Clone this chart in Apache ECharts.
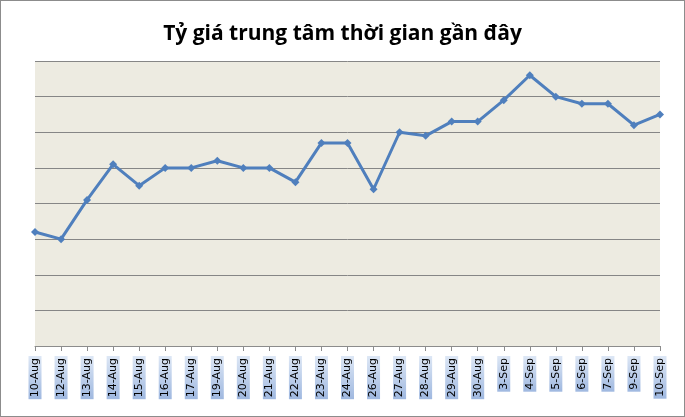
<!DOCTYPE html>
<html><head><meta charset="utf-8">
<script src="https://cdn.jsdelivr.net/npm/echarts@6/dist/echarts.min.js"></script>
<style>html,body{margin:0;padding:0;background:#fff}#c{width:685px;height:417px;box-sizing:border-box;border:1px solid #8c8c8c}</style>
</head><body><div id="c"></div>
<script>
const categories = ['10-Aug','12-Aug','13-Aug','14-Aug','15-Aug','16-Aug','17-Aug','19-Aug','20-Aug','21-Aug','22-Aug','23-Aug','24-Aug','26-Aug','27-Aug','28-Aug','29-Aug','30-Aug','3-Sep','4-Sep','5-Sep','6-Sep','7-Sep','9-Sep','10-Sep'];
const values = [3.2,3.0,4.1,5.1,4.5,5.0,5.0,5.2,5.0,5.0,4.6,5.7,5.7,4.4,6.0,5.9,6.3,6.3,6.9,7.6,7.0,6.8,6.8,6.2,6.5];
const chart = echarts.init(document.getElementById('c'));
chart.setOption({
  animation:false,
  title:{text:'Tỷ giá trung tâm thời gian gần đây',left:'center',top:18,textStyle:{fontFamily:'Open Sans',fontWeight:'bold',fontSize:21,color:'#000'}},
  grid:{left:34,right:24,top:60,bottom:70,show:true,backgroundColor:'#edebe1',borderWidth:0},
  xAxis:{type:'category',data:categories,boundaryGap:false,
    axisLine:{lineStyle:{color:'#8c8c8c',width:1}},
    axisTick:{show:true,length:5,lineStyle:{color:'#8c8c8c'}},
    axisLabel:{rotate:90,interval:0,margin:10,fontFamily:'DejaVu Sans',fontSize:11,color:'#000',
      backgroundColor:new echarts.graphic.LinearGradient(0,0,1,0,[{offset:0,color:'#9fb8e0'},{offset:1,color:'#dde7f5'}]),padding:[1,2]}},
  yAxis:{type:'value',min:0,max:8,interval:1,axisLabel:{show:false},axisLine:{show:false},axisTick:{show:false},
    splitLine:{lineStyle:{color:'#868686',width:1}}},
  series:[{type:'line',data:values,symbol:'diamond',symbolSize:8,
    lineStyle:{color:'#4f7fbd',width:3},itemStyle:{color:'#4f7fbd'}}]
});
</script></body></html>
